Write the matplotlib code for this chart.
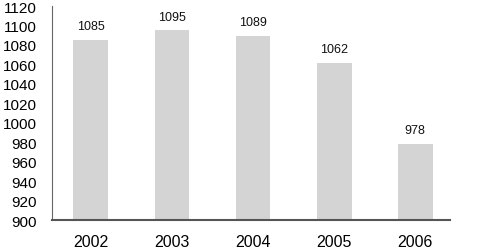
import matplotlib.pyplot as plt

plt.rcParams['font.family'] = ['Liberation Sans', 'DejaVu Sans']

years = ['2002', '2003', '2004', '2005', '2006']
values = [1085, 1095, 1089, 1062, 978]
yticks = list(range(900, 1121, 20))

fig = plt.figure(figsize=(5, 2.53), dpi=100)
ax = fig.add_axes([0.104, 0.126, 0.796, 0.846])

x = range(len(years))
ax.bar(x, values, width=0.43, color='#d4d4d4')
for i, v in zip(x, values):
    ax.text(i, v + 8, str(v), ha='center', va='bottom', fontsize=9, color='#111111')

ax.set_ylim(900, 1120)
ax.set_xlim(-0.48, 4.43)
ax.set_yticks(yticks)
ax.set_xticks(list(x))
ax.set_xticklabels(years, fontsize=11.5)
ax.tick_params(axis='y', labelsize=11, length=0, pad=11)
ax.tick_params(axis='x', length=0, pad=10)

for side in ['top', 'right']:
    ax.spines[side].set_visible(False)
ax.spines['left'].set_color('#666666')
ax.spines['left'].set_linewidth(0.8)
ax.spines['bottom'].set_color('#555555')
ax.spines['bottom'].set_linewidth(1.5)

plt.savefig('out.png', dpi=100)
